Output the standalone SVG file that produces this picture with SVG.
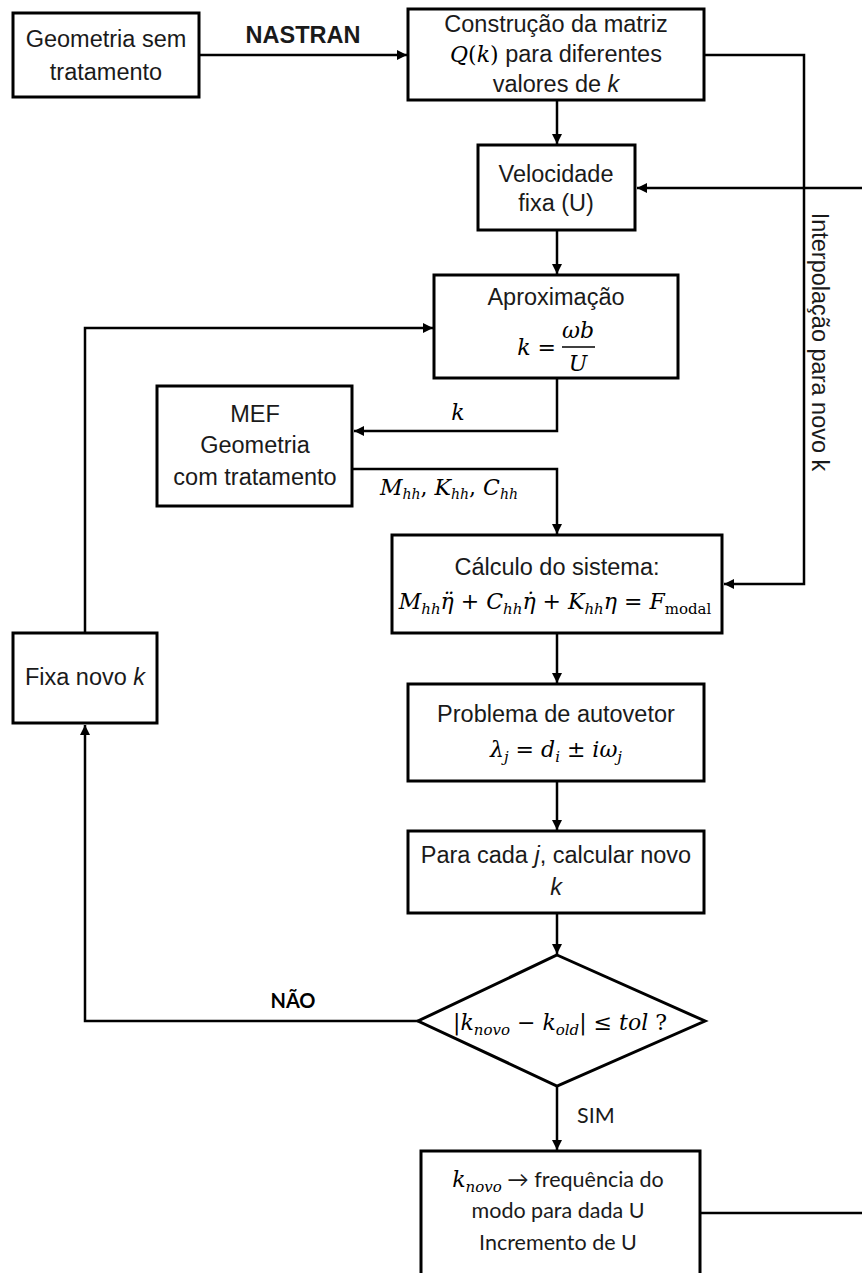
<svg xmlns="http://www.w3.org/2000/svg" width="862" height="1273" viewBox="0 0 862 1273">
<style>
.box{fill:#fff;stroke:#000;stroke-width:3}
.ln{fill:none;stroke:#000;stroke-width:2.5}
.t{font-family:"Liberation Sans",Arial,sans-serif;font-size:23.5px;fill:#1a1a1a}
.m{font-family:"DejaVu Serif","Liberation Serif",serif;font-style:italic;font-size:22px;fill:#000}
.u{font-style:normal}
.s{font-size:15px}
.c{font-family:Lato,"Open Sans",sans-serif;font-size:21.5px;fill:#1a1a1a}
.i{font-style:italic}
.mid{text-anchor:middle}
</style>
<defs>
<marker id="ah" viewBox="0 0 10 10" refX="10" refY="5" markerWidth="12" markerHeight="10" markerUnits="userSpaceOnUse" orient="auto">
<path d="M0,0 L10,5 L0,10 z" fill="#000"/>
</marker>
</defs>
<rect width="862" height="1273" fill="#fff"/>
<g id="connectors">
<line class="ln" x1="199" y1="55" x2="407" y2="55" marker-end="url(#ah)"/>
<polyline class="ln" points="704,55 804,55 804,584 724,584" marker-end="url(#ah)"/>
<line class="ln" x1="557" y1="100" x2="557" y2="144" marker-end="url(#ah)"/>
<line class="ln" x1="862" y1="188" x2="637" y2="188" marker-end="url(#ah)"/>
<line class="ln" x1="557" y1="230" x2="557" y2="274" marker-end="url(#ah)"/>
<polyline class="ln" points="85,633 85,328 433,328" marker-end="url(#ah)"/>
<polyline class="ln" points="557,378 557,431 354,431" marker-end="url(#ah)"/>
<polyline class="ln" points="352,469 557,469 557,534" marker-end="url(#ah)"/>
<line class="ln" x1="557" y1="633" x2="557" y2="683" marker-end="url(#ah)"/>
<line class="ln" x1="557" y1="781" x2="557" y2="830" marker-end="url(#ah)"/>
<line class="ln" x1="557" y1="913" x2="557" y2="954" marker-end="url(#ah)"/>
<polyline class="ln" points="418,1021 85,1021 85,725" marker-end="url(#ah)"/>
<line class="ln" x1="557" y1="1086" x2="557" y2="1150" marker-end="url(#ah)"/>
<line class="ln" x1="700" y1="1213" x2="862" y2="1213"/>
<text class="t" x="303" y="43" text-anchor="middle" font-weight="bold" font-size="22">NASTRAN</text>
<text class="t" transform="translate(812,342) rotate(90)" text-anchor="middle">Interpolação para novo k</text>
<text class="m" x="458" y="420" text-anchor="middle">k</text>
<text class="m" x="380" y="495" font-size="20">M<tspan font-size="14" dy="4">hh</tspan><tspan class="u" dy="-4">, </tspan>K<tspan font-size="14" dy="4">hh</tspan><tspan class="u" dy="-4">, </tspan>C<tspan font-size="14" dy="4">hh</tspan></text>
<text x="293" y="1008" text-anchor="middle" font-family="Lato,'Liberation Sans',sans-serif" font-weight="bold" font-size="20" fill="#000">NÃO</text>
<text class="c" x="577" y="1123">SIM</text>
</g>
<g id="n_geometria">
<rect class="box" x="13" y="13" width="186" height="84"/>
<text class="t mid" x="106" y="47">Geometria sem</text>
<text class="t mid" x="106" y="80">tratamento</text>
</g>
<g id="n_construcao">
<rect class="box" x="408" y="9" width="296" height="91"/>
<text class="t mid" x="556" y="32">Construção da matriz</text>
<text class="t mid" x="556" y="62"><tspan class="m" font-size="20">Q</tspan><tspan class="m u" font-size="20">(</tspan><tspan class="m" font-size="20">k</tspan><tspan class="m u" font-size="20">)</tspan> para diferentes</text>
<text class="t mid" x="556" y="92">valores de <tspan class="i">k</tspan></text>
</g>
<g id="n_velocidade">
<rect class="box" x="478" y="145" width="157" height="85"/>
<text class="t mid" x="556" y="182">Velocidade</text>
<text class="t mid" x="556" y="211">fixa (U)</text>
</g>
<g id="n_aproximacao">
<rect class="box" x="434" y="275" width="244" height="103"/>
<text class="t mid" x="556" y="305">Aproximação</text>
<text class="m" x="556" y="355" text-anchor="end">k <tspan class="u">=</tspan></text>
<text class="m mid" x="578" y="338">ωb</text>
<line x1="562" y1="347" x2="595" y2="347" stroke="#000" stroke-width="1.5"/>
<text class="m mid" x="578" y="371">U</text>
</g>
<g id="n_mef">
<rect class="box" x="157" y="386" width="195" height="120"/>
<text class="t mid" x="255" y="422">MEF</text>
<text class="t mid" x="255" y="453">Geometria</text>
<text class="t mid" x="255" y="485">com tratamento</text>
</g>
<g id="n_calculo">
<rect class="box" x="392" y="535" width="330" height="98"/>
<text class="t mid" x="557" y="575">Cálculo do sistema:</text>
<text class="m mid" x="555" y="609" font-size="21.5">M<tspan class="s" dy="5">hh</tspan><tspan dy="-5">η̈ </tspan><tspan class="u">+ </tspan>C<tspan class="s" dy="5">hh</tspan><tspan dy="-5">η̇ </tspan><tspan class="u">+ </tspan>K<tspan class="s" dy="5">hh</tspan><tspan dy="-5">η </tspan><tspan class="u">= </tspan>F<tspan class="u s" dy="5">modal</tspan></text>
</g>
<g id="n_fixa">
<rect class="box" x="13" y="633" width="144" height="90"/>
<text class="t mid" x="85" y="685">Fixa novo <tspan class="i">k</tspan></text>
</g>
<g id="n_problema">
<rect class="box" x="408" y="684" width="296" height="97"/>
<text class="t mid" x="556" y="722">Problema de autovetor</text>
<text class="m mid" x="556" y="757">λ<tspan class="s" dy="5">j</tspan><tspan class="u" dy="-5"> = </tspan>d<tspan class="s" dy="5">i</tspan><tspan class="u" dy="-5"> ± </tspan>iω<tspan class="s" dy="5">j</tspan></text>
</g>
<g id="n_paracada">
<rect class="box" x="408" y="831" width="296" height="82"/>
<text class="t mid" x="556" y="863">Para cada <tspan class="i">j</tspan>, calcular novo</text>
<text class="t mid i" x="556" y="895">k</text>
</g>
<g id="n_decisao">
<polygon class="box" points="557,955 705,1021 557,1086 418,1021"/>
<text class="m mid" x="560" y="1030"><tspan class="u">|</tspan>k<tspan class="s" dy="5">novo</tspan><tspan class="u" dy="-5"> − </tspan>k<tspan class="s" dy="5">old</tspan><tspan class="u" dy="-5">| ≤ </tspan>tol<tspan class="u"> ?</tspan></text>
</g>
<g id="n_final">
<rect class="box" x="421" y="1151" width="279" height="140"/>
<text class="c mid" x="558" y="1187"><tspan class="m">k</tspan><tspan class="m s" dy="5">novo</tspan><tspan dy="-5"> → frequência do</tspan></text>
<text class="c mid" x="558" y="1218">modo para dada U</text>
<text class="c mid" x="558" y="1250">Incremento de U</text>
</g>
</svg>
